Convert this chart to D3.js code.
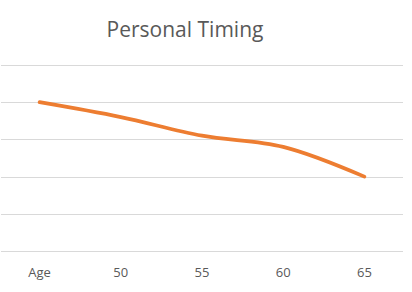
<!DOCTYPE html>
<html>
<head>
<meta charset="utf-8">
<script src="https://cdn.jsdelivr.net/npm/d3@7"></script>
<style>
  body { margin: 0; background: #fff; }
  svg { display: block; }
</style>
</head>
<body>
<div id="chart"></div>
<script>
// chart data
const categories = ['Age', '50', '55', '60', '65'];
const values = [4.0, 3.6, 3.1, 2.8, 2.0];
const yTicks = [0, 1, 2, 3, 4, 5];
const title = 'Personal Timing';

const W = 412, H = 292;
const margin = { top: 65, right: 9, bottom: 41, left: 1 };
const width = W - margin.left - margin.right;
const height = H - margin.top - margin.bottom;

const svg = d3.select('#chart')
  .append('svg')
  .attr('width', W)
  .attr('height', H);

const g = svg.append('g')
  .attr('transform', `translate(${margin.left},${margin.top})`);

const x = d3.scaleBand()
  .domain(categories)
  .range([-2, width + 2])
  .padding(0);

const y = d3.scaleLinear()
  .domain([0, 5])
  .range([height, 0]);

// gridlines
g.append('g')
  .selectAll('line')
  .data(yTicks)
  .enter()
  .append('line')
  .attr('x1', 0)
  .attr('x2', width)
  .attr('y1', d => Math.round(y(d)) + 0.5)
  .attr('y2', d => Math.round(y(d)) + 0.5)
  .attr('stroke', '#d9d9d9')
  .attr('stroke-width', 1);

// x axis labels
const xAxis = g.append('g')
  .attr('transform', `translate(0,${height})`)
  .call(d3.axisBottom(x).tickSize(0).tickPadding(17));
xAxis.select('.domain').remove();
xAxis.selectAll('text')
  .style('font-family', 'Open Sans, sans-serif')
  .style('font-size', '13px')
  .style('fill', '#595959');

// line
const line = d3.line()
  .x((d, i) => x(categories[i]) + x.bandwidth() / 2)
  .y(d => y(d))
  .curve(d3.curveCatmullRom.alpha(0.5));

g.append('path')
  .datum(values)
  .attr('fill', 'none')
  .attr('stroke', '#ed7d31')
  .attr('stroke-width', 3.75)
  .attr('stroke-linecap', 'round')
  .attr('d', line);

// title
svg.append('text')
  .attr('x', 185)
  .attr('y', 37)
  .attr('text-anchor', 'middle')
  .style('font-family', 'Open Sans, sans-serif')
  .style('font-size', '21px')
  .style('fill', '#595959')
  .text(title);
</script>
</body>
</html>
